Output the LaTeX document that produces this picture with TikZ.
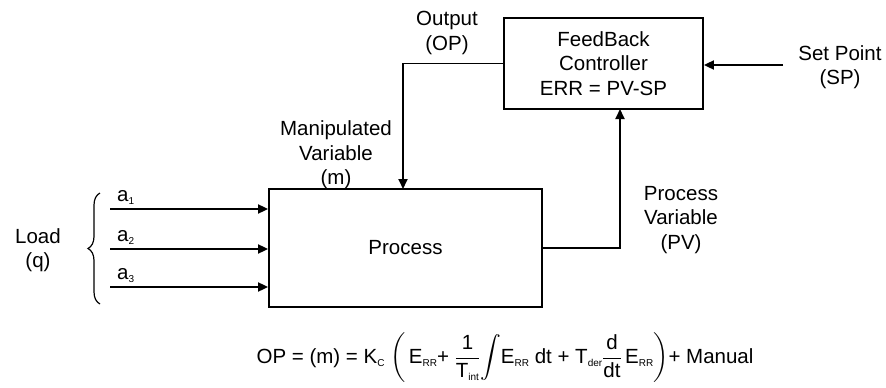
\documentclass[tikz,border=0pt]{standalone}
\usepackage{amsmath}
\usepackage{fontspec}
\setmainfont{Liberation Sans}
\usetikzlibrary{arrows.meta,decorations.pathreplacing}
\newcommand{\sbs}[1]{\raisebox{-0.3ex}{\fontsize{10}{10}\selectfont #1}}
\begin{document}
\begin{tikzpicture}[x=1pt,y=1pt,
  every node/.style={font=\fontsize{20.5}{24.5}\selectfont, inner sep=0pt, align=center},
  blk/.style={draw, line width=1.8pt, inner sep=0pt},
  wire/.style={line width=1.8pt},
  arr/.style={line width=1.8pt, -{Triangle[length=10pt,width=9pt]}}]
\useasboundingbox (0,0) rectangle (886,-388);
% blocks
\node[blk, minimum width=199pt, minimum height=91pt] (ctrl) at (603.5,-63.5) {FeedBack\\Controller\\ERR = PV-SP};
\node[blk, minimum width=273pt, minimum height=118pt] (proc) at (405.5,-248) {Process};
% labels
\node (outlbl) at (447,-33) {Output\\(OP)};
\node (mvlbl) at (336,-155) {Manipulated\\Variable\\(m)};
\node (pvlbl) at (681,-220) {Process\\Variable\\(PV)};
\node (splbl) at (840,-67) {Set Point\\(SP)};
\node (load) at (38,-250) {Load\\(q)};
% connectors
\coordinate (mvin) at (403,-189);
\draw[arr] (ctrl.west) -| (mvin);
\coordinate (pvin) at (620,-109);
\draw[arr] (proc.east) -| (pvin);
\coordinate (spstart) at (783,-65);
\draw[arr] (spstart) -- (ctrl.east |- spstart);
% inputs
\coordinate (a1s) at (110,-209);
\coordinate (a2s) at (110,-249);
\coordinate (a3s) at (110,-287);
\draw[arr] (a1s) -- (proc.west |- a1s);
\draw[arr] (a2s) -- (proc.west |- a2s);
\draw[arr] (a3s) -- (proc.west |- a3s);
\node[anchor=south west] (a1) at (117,-205) {a\sbs{1}};
\node[anchor=south west] (a2) at (117,-245) {a\sbs{2}};
\node[anchor=south west] (a3) at (117,-283) {a\sbs{3}};
% brace
\coordinate (bb) at (100,-304);
\coordinate (bt) at (100,-193);
\draw[line width=1.2pt, decorate, decoration={brace, amplitude=12pt, aspect=0.5}] (bb) -- (bt);
% equation
\node (eq) at (505,-358) {OP = (m) = K\sbs{C} $\left(\,\text{E\sbs{RR}+ }\dfrac{\text{1}}{\text{T\sbs{int}}}\!\displaystyle\int\!\text{E\sbs{RR} dt + T\sbs{der}}\dfrac{\text{d}}{\text{dt}}\,\text{E\sbs{RR}}\right)$+ Manual};
\end{tikzpicture}
\end{document}
